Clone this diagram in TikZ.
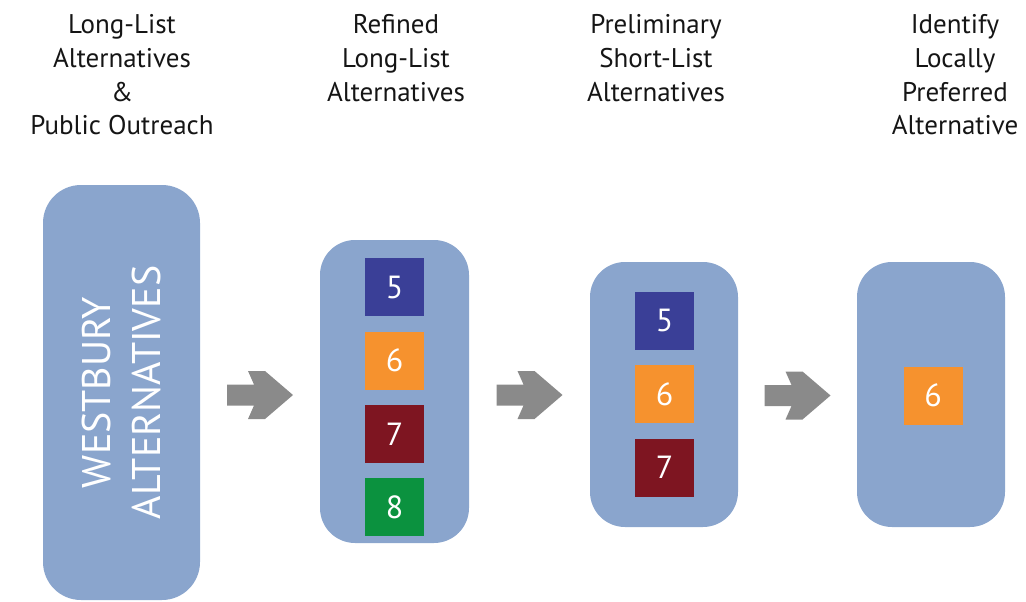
\documentclass[tikz,border=0pt]{standalone}
\usepackage{fontspec}
\setmainfont{PT Sans}
\usetikzlibrary{calc}

\definecolor{panel}{HTML}{8AA5CD}
\definecolor{altfive}{HTML}{3A3F97}
\definecolor{altsix}{HTML}{F6922E}
\definecolor{altseven}{HTML}{7E1521}
\definecolor{alteight}{HTML}{0B923F}
\definecolor{arrowgray}{HTML}{8A8A8A}
\definecolor{titleink}{HTML}{151515}

\tikzset{
  panelbox/.style={fill=panel, draw=none, rounded corners=35pt, inner sep=0pt},
  altsquare/.style={draw=none, inner sep=0pt, minimum width=59pt, minimum height=58pt,
    text=white, font=\fontsize{32}{32}\selectfont},
  % anchored at the baseline of the last line
  steptitle/.style={anchor=base, align=center, text=titleink, inner sep=0pt,
    font=\fontsize{27}{34}\selectfont},
  blockarrow/.pic={
    \fill[arrowgray] (-33,-10.5) -- (-6,-10.5) -- (-12,-24) -- (5,-24) -- (33,0)
      -- (5,24) -- (-12,24) -- (-6,10.5) -- (-33,10.5) -- cycle;
  }
}

\begin{document}
\begin{tikzpicture}[x=1pt, y=-1pt]
  \useasboundingbox (0,0) rectangle (1026,602);

  % step titles
  \node[steptitle] (t1) at (122,135) {Long-List\\Alternatives\\\&\\Public Outreach};
  \node[steptitle] (t2) at (396,101) {Refined\\Long-List\\Alternatives};
  \node[steptitle] (t3) at (656,101) {Preliminary\\Short-List\\Alternatives};
  \node[steptitle] (t4) at (955,135) {Identify\\Locally\\Preferred\\Alternative};

  % panels
  \node[panelbox, rounded corners=38pt, minimum width=157pt, minimum height=415pt] (b1) at (121.5,392.5) {};
  \node[panelbox, minimum width=149pt, minimum height=303pt] (b2) at (394.5,391.5) {};
  \node[panelbox, minimum width=148pt, minimum height=265pt] (b3) at (664,394.5) {};
  \node[panelbox, minimum width=148pt, minimum height=265pt] (b4) at (931,394.5) {};

  % long-list label
  \node[rotate=90, align=center, text=white, inner sep=0pt,
        font=\fontsize{40}{50}\selectfont] (w) at (b1.center) {WESTBURY\\ALTERNATIVES};

  % alternatives in each panel
  \node[altsquare, fill=altfive]  (r5) at (394.5,287)   {5};
  \node[altsquare, fill=altsix]   (r6) at (394.5,360.5) {6};
  \node[altsquare, fill=altseven] (r7) at (394.5,434)   {7};
  \node[altsquare, fill=alteight] (r8) at (394.5,507)   {8};

  \node[altsquare, fill=altfive]  (p5) at (664.5,320.5) {5};
  \node[altsquare, fill=altsix]   (p6) at (664.5,394)   {6};
  \node[altsquare, fill=altseven] (p7) at (664.5,467.5) {7};

  \node[altsquare, fill=altsix]   (l6) at (933,395.5)   {6};

  % block arrows between panels
  \path ($(b1.east)!0.5!(b2.west)+(0,3)$) pic {blockarrow};
  \path ($(b2.east)!0.5!(b3.west)+(0,2)$) pic {blockarrow};
  \path ($(b3.east)!0.5!(b4.west)+(0,1)$) pic {blockarrow};
\end{tikzpicture}
\end{document}
